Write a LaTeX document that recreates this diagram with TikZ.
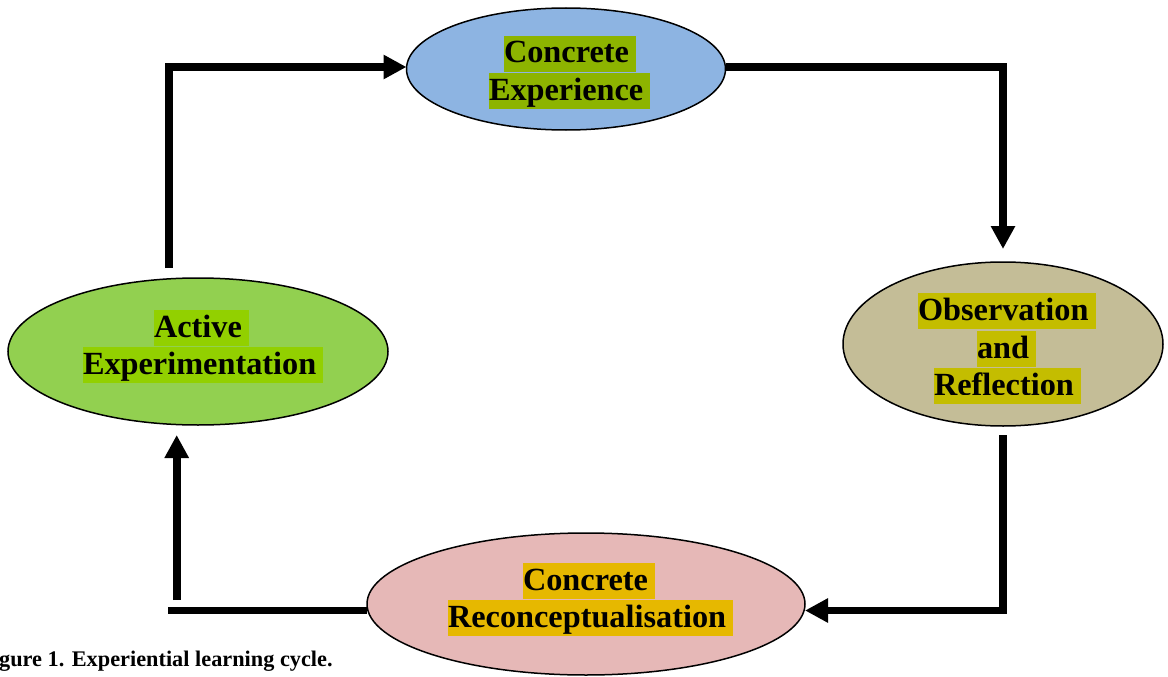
\documentclass[tikz,border=0pt]{standalone}
\usepackage{fontspec}
\setmainfont{Liberation Serif}
\usetikzlibrary{shapes.geometric,arrows.meta}
\definecolor{ceFill}{RGB}{141,180,226}
\definecolor{ceHl}{RGB}{141,180,0}
\definecolor{orFill}{RGB}{196,189,151}
\definecolor{orHl}{RGB}{196,189,0}
\definecolor{aeFill}{RGB}{146,208,80}
\definecolor{aeHl}{RGB}{146,208,0}
\definecolor{crFill}{RGB}{230,184,183}
\definecolor{crHl}{RGB}{230,184,0}
\tikzset{
  stage/.style={ellipse, draw=black, line width=1.5pt, inner sep=0pt, outer sep=0pt},
  hlline/.style={fill=#1, inner sep=0pt, outer sep=0pt, text height=27pt, text depth=9pt,
    anchor=north west, font=\fontsize{32.3}{36}\selectfont\bfseries},
  txtline/.style={inner sep=0pt, outer sep=0pt, text height=27pt, text depth=9pt,
    anchor=north west, font=\fontsize{32.3}{36}\selectfont\bfseries},
  conn/.style={line width=7.7pt, line join=miter, line cap=butt},
  connarrow/.style={conn, -{Triangle[width=23pt,length=23pt]}},
}
\newcommand{\tsp}{\hspace*{0.22em}}
\begin{document}
\begin{tikzpicture}[x=1pt,y=-1pt]
\useasboundingbox (0,0) rectangle (1168,677);
% stages
\node[stage, fill=ceFill, minimum width=319pt, minimum height=122pt] (ce) at (566,69) {};
\node[stage, fill=orFill, minimum width=320pt, minimum height=164pt] (or) at (1003,344) {};
\node[stage, fill=aeFill, minimum width=380pt, minimum height=147pt] (ae) at (198,351.5) {};
\node[stage, fill=crFill, minimum width=438pt, minimum height=142pt] (cr) at (586,604) {};
% texts
\node[hlline=ceHl] (ce1) at (504,36) {Concrete\tsp};
\node[hlline=ceHl] (ce2) at (489,73) {Experience\tsp};
\node[hlline=orHl] (or1) at (918,293) {Observation\tsp};
\node[hlline=orHl] (or2) at (977,331) {and\tsp};
\node[hlline=orHl] (or3) at (934,368) {\phantom{Reflection}\tsp};
\begin{scope}
  \clip (900,360) rectangle (1110,394);
  \node[txtline] (or3t) at (or3.north west) {Reflection};
\end{scope}
\node[hlline=aeHl] (ae1) at (154,310) {Active\tsp};
\node[hlline=aeHl] (ae2) at (83,347) {Experimentation\tsp};
\node[hlline=crHl] (cr1) at (523,563) {Concrete\tsp};
\node[hlline=crHl] (cr2) at (448,600) {Reconceptualisation\tsp};
% connector end points
\coordinate (aeTop) at (169,268);
\coordinate (orTop) at (1003,249);
\coordinate (orBot) at (1003,435);
\coordinate (blEnd) at (168,610.5);
\coordinate (aeUpStart) at (176.7,600);
\coordinate (aeUpEnd) at (176.7,435);
% connectors
\draw[connarrow] (aeTop) |- ([yshift=2pt]ce.west);
\draw[connarrow] ([yshift=2pt]ce.east) -| (orTop);
\draw[connarrow] (orBot) |- ([yshift=-6.5pt]cr.east);
\draw[conn] ([yshift=-6.5pt]cr.west) -- (blEnd);
\draw[connarrow] (aeUpStart) -- (aeUpEnd);
% caption
\node[anchor=base west, inner sep=0pt, font=\fontsize{22.3}{26}\selectfont\bfseries] (cap) at (-1,666) {gure 1. Experiential learning cycle.};
\end{tikzpicture}
\end{document}
